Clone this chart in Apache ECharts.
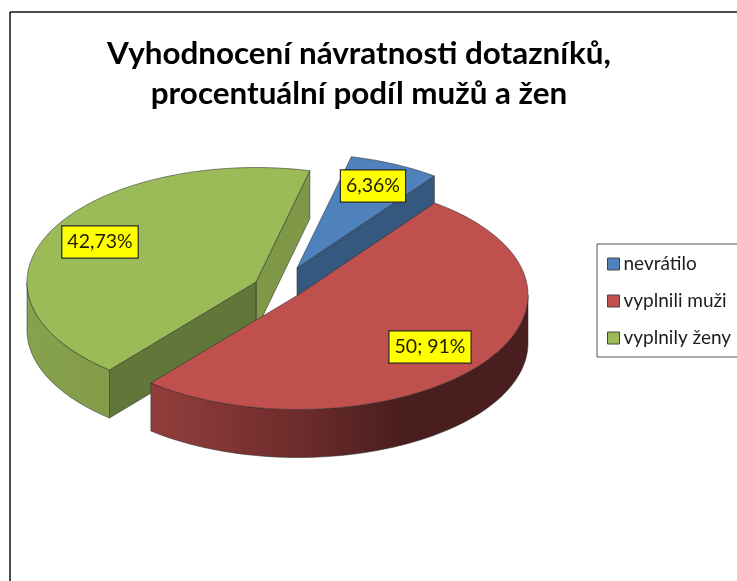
<!DOCTYPE html>
<html>
<head>
<meta charset="utf-8">
<style>html,body{margin:0;padding:0;background:#fff}#c{width:737px;height:581px}</style>
<script src="https://cdn.jsdelivr.net/npm/echarts@6/dist/echarts.min.js"></script>
</head>
<body>
<div id="c"></div>
<script>
var titleLines = ['Vyhodnocení návratnosti dotazníků,', 'procentuální podíl mužů a žen'];
var categories = ['nevrátilo', 'vyplnili muži', 'vyplnily ženy'];
var values = [6.36, 50.91, 42.73];
var labels = ['6,36%', '50; 91%', '42,73%'];

// Styling and layout (not data)
var font = 'Lato, Carlito, "Noto Sans", sans-serif';
var colors = ['#4f81bd', '#c0504d', '#9bbb59'];
var START = -76.4, RY = 114.5, DEPTH = 48;
var radiusX = [231, 230, 229];
var apex = [[297, 268], [298, 295], [256, 282]];
var labelBox = [[373, 186], [430, 347], [100, 242]];
var zs = [1, 3, 2];
var rimFill = [
  '#2f4f73',
  {type:'linear',x:0,y:0,x2:1,y2:0,colorStops:[{offset:0,color:'#933e3c'},{offset:.4,color:'#6c2c2b'},{offset:.66,color:'#4a1e1e'},{offset:1,color:'#4a1e1e'}]},
  {type:'linear',x:0,y:0,x2:1,y2:0,colorStops:[{offset:0,color:'#87a24e'},{offset:1,color:'#829c4a'}]}
];
var wallStart = [null, null, '#61773a'];
var wallEnd = ['#35587f', null, '#7e9848'];
var EDGE = 'rgba(40,40,40,.75)';

function sliceRender(idx) {
  var RX = radiusX[idx];
  function pt(c, deg, dy) {
    var r = deg * Math.PI / 180;
    return [c[0] + RX * Math.cos(r), c[1] + RY * Math.sin(r) + (dy || 0)];
  }
  function arc(c, a, b, dy) {
    var n = Math.max(2, Math.ceil(Math.abs(b - a) / 2)), out = [];
    for (var i = 0; i <= n; i++) out.push(pt(c, a + (b - a) * i / n, dy));
    return out;
  }
  return function (params, api) {
    var total = values.reduce(function (s, v) { return s + v; }, 0);
    var before = values.slice(0, idx).reduce(function (s, v) { return s + v; }, 0);
    var a0 = START + before / total * 360;
    var a1 = a0 + api.value(0) / total * 360;
    var c = apex[idx], kids = [];
    function face(pts, fill) {
      kids.push({type:'polygon', shape:{points:pts}, style:{fill:fill, stroke:EDGE, lineWidth:.7}});
    }
    function radial(deg, fill) {
      var p = pt(c, deg);
      face([c, p, [p[0], p[1] + DEPTH], [c[0], c[1] + DEPTH]], fill);
    }
    if (wallEnd[idx]) radial(a1, wallEnd[idx]);
    if (wallStart[idx]) radial(a0, wallStart[idx]);
    var lo = Math.max(a0, 0), hi = Math.min(a1, 180);
    if (hi > lo) {
      face(arc(c, lo, hi, 0).concat(arc(c, hi, lo, DEPTH)), rimFill[idx]);
    }
    face([c].concat(arc(c, a0, a1, 0)), colors[idx]);
    kids.push({type:'text', z2:10, style:{
      x:labelBox[idx][0], y:labelBox[idx][1], text:labels[idx], align:'center', verticalAlign:'middle',
      font:'19.5px ' + font, fill:'#1c1c00', backgroundColor:'#ffff00',
      borderColor:'#2a2a2a', borderWidth:1.2, padding:[6,5,5,5]
    }});
    return {type:'group', children:kids};
  };
}

var series = categories.map(function (name, i) {
  return {
    type:'custom', name:name, coordinateSystem:'none', silent:true, z:zs[i],
    data:[[values[i]]], renderItem:sliceRender(i),
    itemStyle:{color:colors[i]}
  };
});

var chart = echarts.init(document.getElementById('c'), null, {renderer:'canvas'});
chart.setOption({
  animation:false,
  backgroundColor:'#fff',
  title:{
    text:titleLines.join('\n'), left:354, top:29, textAlign:'center',
    textStyle:{fontFamily:font, fontWeight:'bold', fontSize:31.4, lineHeight:40, color:'#000'}
  },
  legend:{
    orient:'vertical', left:597, top:244, data:categories, icon:'rect',
    itemWidth:12, itemHeight:12, itemGap:15, padding:[9,20,8,10],
    borderColor:'#555', borderWidth:1,
    textStyle:{fontFamily:font, fontSize:19, lineHeight:22, color:'#1c1c1c', padding:[0,0,0,-1]},
    itemStyle:{borderColor:'#444', borderWidth:1}
  },
  graphic:[
    {type:'line', shape:{x1:10,y1:12,x2:737,y2:12}, style:{stroke:'#111',lineWidth:1.5}, silent:true},
    {type:'line', shape:{x1:10,y1:12,x2:10,y2:581}, style:{stroke:'#111',lineWidth:1.5}, silent:true}
  ],
  series:series
});
</script>
</body>
</html>
